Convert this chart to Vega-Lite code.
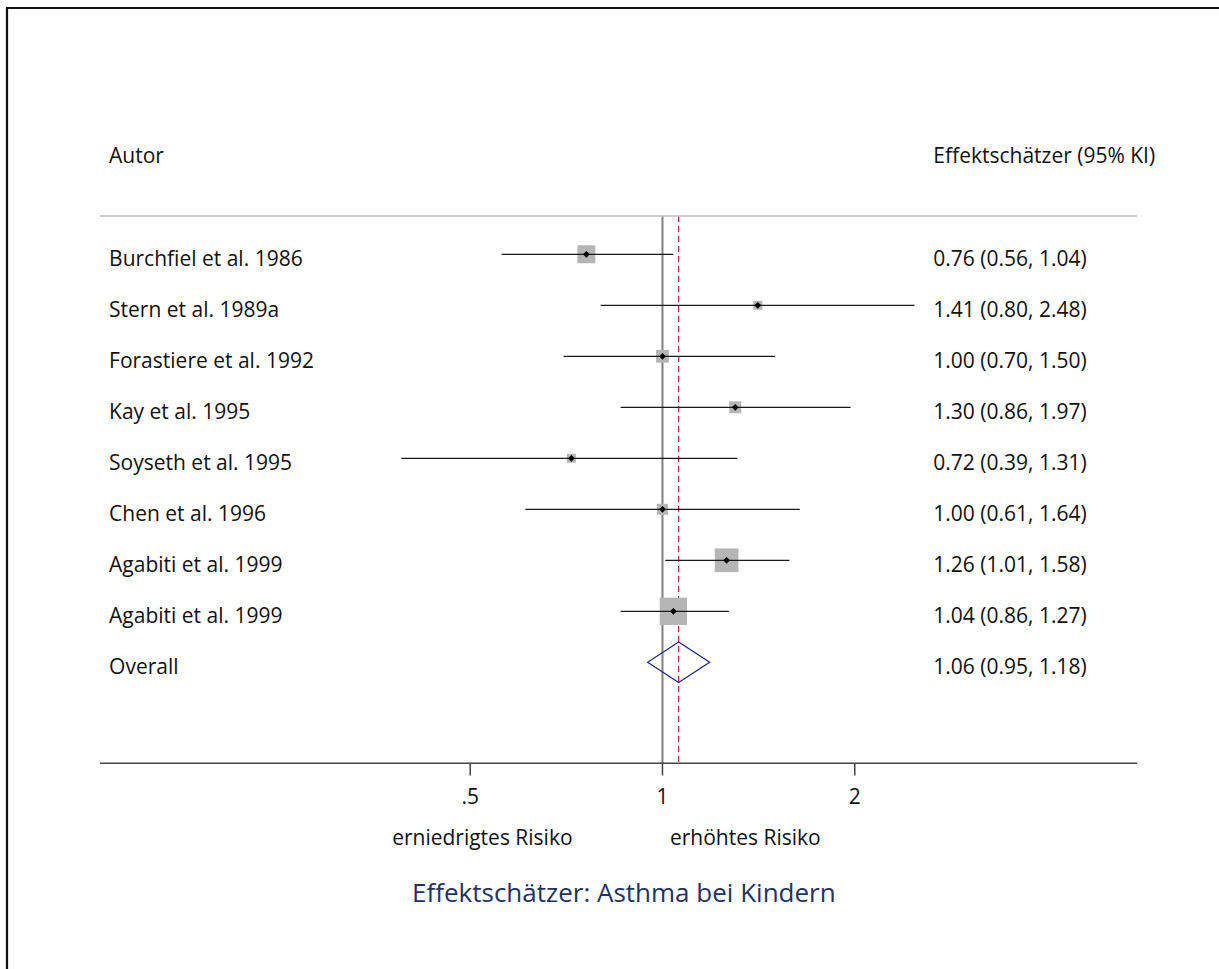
{
  "$schema": "https://vega.github.io/schema/vega-lite/v6.json",
  "width": 1219,
  "height": 969,
  "autosize": {"type": "none"},
  "padding": {"left": 7, "top": 8, "right": -7, "bottom": -8},
  "background": "white",
  "config": {
    "view": {"stroke": "#111111", "strokeWidth": 2.2},
    "text": {"font": "Open Sans", "fontSize": 21, "color": "#111111"}
  },
  "data": {
    "values": [
      {"author": "Burchfiel et al. 1986", "row": 1, "est": 0.76, "lo": 0.56, "hi": 1.04, "weight": 14.5, "ci": "0.76 (0.56, 1.04)", "kind": "study"},
      {"author": "Stern et al. 1989a", "row": 2, "est": 1.41, "lo": 0.80, "hi": 2.48, "weight": 3.6, "ci": "1.41 (0.80, 2.48)", "kind": "study"},
      {"author": "Forastiere et al. 1992", "row": 3, "est": 1.00, "lo": 0.70, "hi": 1.50, "weight": 7.4, "ci": "1.00 (0.70, 1.50)", "kind": "study"},
      {"author": "Kay et al. 1995", "row": 4, "est": 1.30, "lo": 0.86, "hi": 1.97, "weight": 6.5, "ci": "1.30 (0.86, 1.97)", "kind": "study"},
      {"author": "Soyseth et al. 1995", "row": 5, "est": 0.72, "lo": 0.39, "hi": 1.31, "weight": 3.6, "ci": "0.72 (0.39, 1.31)", "kind": "study"},
      {"author": "Chen et al. 1996", "row": 6, "est": 1.00, "lo": 0.61, "hi": 1.64, "weight": 5.4, "ci": "1.00 (0.61, 1.64)", "kind": "study"},
      {"author": "Agabiti et al. 1999", "row": 7, "est": 1.26, "lo": 1.01, "hi": 1.58, "weight": 25.2, "ci": "1.26 (1.01, 1.58)", "kind": "study"},
      {"author": "Agabiti et al. 1999", "row": 8, "est": 1.04, "lo": 0.86, "hi": 1.27, "weight": 33.5, "ci": "1.04 (0.86, 1.27)", "kind": "study"},
      {"author": "Overall", "row": 9, "est": 1.06, "lo": 0.95, "hi": 1.18, "weight": null, "ci": "1.06 (0.95, 1.18)", "kind": "overall"}
    ]
  },
  "layer": [
    {
      "data": {"values": [{"ref": 1}]},
      "mark": {"type": "rule", "color": "#7f7f7f", "strokeWidth": 2},
      "encoding": {
        "x": {"field": "ref", "type": "quantitative", "axis": null, "scale": {"type": "log", "domain": [0.09413, 7.626], "nice": false}},
        "y": {"datum": 0.25, "type": "quantitative", "axis": null, "scale": {"domain": [-3.829, 15.171], "reverse": true, "nice": false, "zero": false}},
        "y2": {"datum": 10.98}
      }
    },
    {
      "transform": [{"filter": "datum.kind == 'overall'"}],
      "mark": {"type": "rule", "color": "#b0202a", "strokeWidth": 1.2, "strokeDash": [6, 4]},
      "encoding": {
        "x": {"field": "est", "type": "quantitative"},
        "y": {"datum": 0.25, "type": "quantitative"},
        "y2": {"datum": 10.98}
      }
    },
    {
      "data": {"values": [{}]},
      "mark": {"type": "rule", "color": "#bdbdbd", "strokeWidth": 1.5},
      "encoding": {
        "x": {"datum": 0.1316, "type": "quantitative"},
        "x2": {"datum": 5.538},
        "y": {"datum": 0.25, "type": "quantitative"}
      }
    },
    {
      "data": {"values": [{}]},
      "mark": {"type": "rule", "color": "#444444", "strokeWidth": 1.5},
      "encoding": {
        "x": {"datum": 0.1316, "type": "quantitative"},
        "x2": {"datum": 5.538},
        "y": {"datum": 10.98, "type": "quantitative"}
      }
    },
    {
      "data": {"values": [{"tick": 0.5, "label": ".5"}, {"tick": 1, "label": "1"}, {"tick": 2, "label": "2"}]},
      "layer": [
        {
          "mark": {"type": "rule", "color": "#444444", "strokeWidth": 1.5},
          "encoding": {
            "x": {"field": "tick", "type": "quantitative"},
            "y": {"datum": 10.98, "type": "quantitative"},
            "y2": {"datum": 11.22}
          }
        },
        {
          "mark": {"type": "text", "align": "center", "baseline": "alphabetic"},
          "encoding": {
            "x": {"field": "tick", "type": "quantitative"},
            "y": {"datum": 11.78, "type": "quantitative"},
            "text": {"field": "label"}
          }
        }
      ]
    },
    {
      "transform": [{"filter": "datum.kind == 'study'"}],
      "mark": {"type": "square", "color": "#b5b5b5", "opacity": 1},
      "encoding": {
        "x": {"field": "est", "type": "quantitative"},
        "y": {"field": "row", "type": "quantitative"},
        "size": {"field": "weight", "type": "quantitative", "legend": null, "scale": {"domain": [0, 33.5], "range": [0, 745]}}
      }
    },
    {
      "transform": [{"filter": "datum.kind == 'study'"}],
      "mark": {"type": "rule", "color": "#1a1a1a", "strokeWidth": 1.3},
      "encoding": {
        "x": {"field": "lo", "type": "quantitative"},
        "x2": {"field": "hi"},
        "y": {"field": "row", "type": "quantitative"}
      }
    },
    {
      "transform": [{"filter": "datum.kind == 'study'"}],
      "mark": {"type": "point", "shape": "diamond", "filled": true, "color": "#000000", "size": 45, "opacity": 1},
      "encoding": {
        "x": {"field": "est", "type": "quantitative"},
        "y": {"field": "row", "type": "quantitative"}
      }
    },
    {
      "transform": [{"filter": "datum.kind == 'overall'"}],
      "mark": {"type": "point", "shape": "M-1,0L0,-0.652L1,0L0,0.652Z", "filled": false, "stroke": "#1f2a8a", "strokeWidth": 1.3, "size": 3844, "opacity": 1},
      "encoding": {
        "x": {"field": "est", "type": "quantitative"},
        "y": {"field": "row", "type": "quantitative"}
      }
    },
    {
      "mark": {"type": "text", "align": "left", "baseline": "alphabetic", "dy": 12},
      "encoding": {
        "x": {"datum": 0.136, "type": "quantitative"},
        "y": {"field": "row", "type": "quantitative"},
        "text": {"field": "author"}
      }
    },
    {
      "mark": {"type": "text", "align": "left", "baseline": "alphabetic", "dy": 12},
      "encoding": {
        "x": {"datum": 2.655, "type": "quantitative"},
        "y": {"field": "row", "type": "quantitative"},
        "text": {"field": "ci"}
      }
    },
    {
      "data": {"values": [{"t": "Autor"}]},
      "mark": {"type": "text", "align": "left", "baseline": "alphabetic", "dy": 11},
      "encoding": {
        "x": {"datum": 0.136, "type": "quantitative"},
        "y": {"datum": -1, "type": "quantitative"},
        "text": {"field": "t"}
      }
    },
    {
      "data": {"values": [{"t": "Effektschätzer (95% KI)"}]},
      "mark": {"type": "text", "align": "left", "baseline": "alphabetic", "dy": 11},
      "encoding": {
        "x": {"datum": 2.655, "type": "quantitative"},
        "y": {"datum": -1, "type": "quantitative"},
        "text": {"field": "t"}
      }
    },
    {
      "data": {"values": [{"t": "erniedrigtes Risiko"}]},
      "mark": {"type": "text", "align": "center", "baseline": "alphabetic"},
      "encoding": {
        "x": {"datum": 0.5224, "type": "quantitative"},
        "y": {"datum": 12.58, "type": "quantitative"},
        "text": {"field": "t"}
      }
    },
    {
      "data": {"values": [{"t": "erhöhtes Risiko"}]},
      "mark": {"type": "text", "align": "center", "baseline": "alphabetic"},
      "encoding": {
        "x": {"datum": 1.348, "type": "quantitative"},
        "y": {"datum": 12.58, "type": "quantitative"},
        "text": {"field": "t"}
      }
    },
    {
      "data": {"values": [{"t": "Effektschätzer: Asthma bei Kindern"}]},
      "mark": {"type": "text", "align": "center", "baseline": "alphabetic", "fontSize": 26, "color": "#1e3266"},
      "encoding": {
        "x": {"datum": 0.87, "type": "quantitative"},
        "y": {"datum": 13.7, "type": "quantitative"},
        "text": {"field": "t"}
      }
    }
  ]
}
